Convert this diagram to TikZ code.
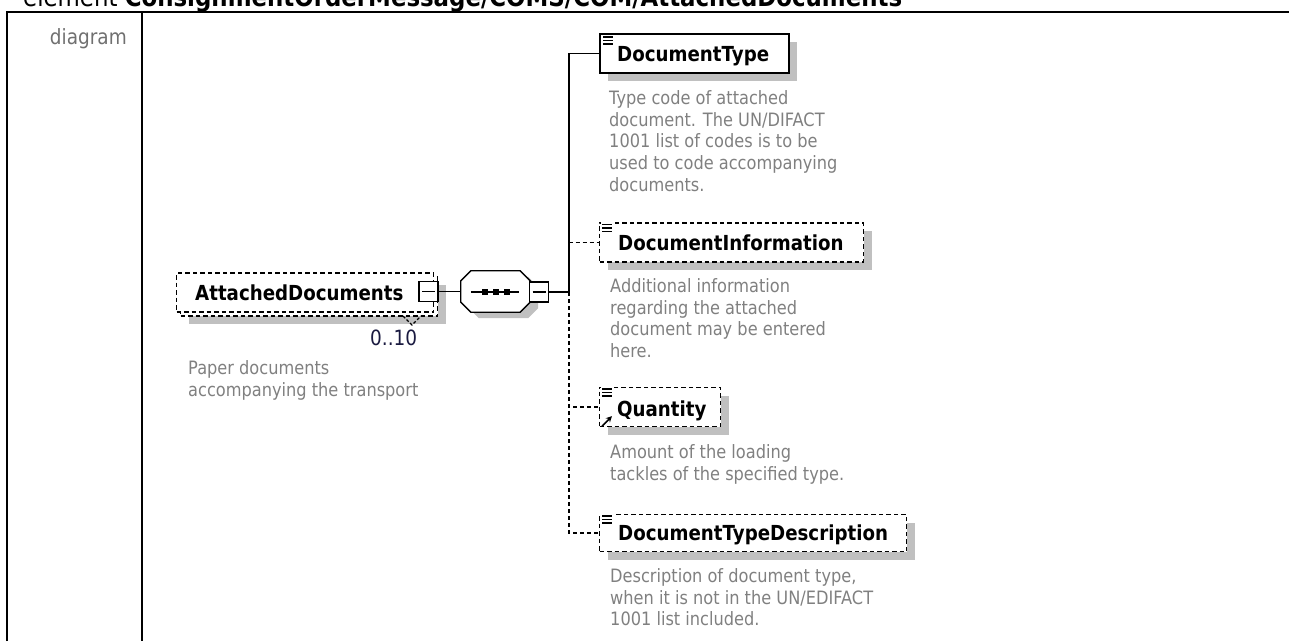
\documentclass[tikz,border=0pt]{standalone}
\usepackage{fontspec}
\setmainfont{DejaVu Sans}[FakeStretch=0.88]
\usetikzlibrary{calc,shadows,arrows.meta}
\definecolor{descgray}{HTML}{808080}
\definecolor{labgray}{HTML}{707070}
\definecolor{shadowgray}{HTML}{C0C0C0}
\definecolor{occ}{HTML}{1A1A40}
\begin{document}
\begin{tikzpicture}[x=1pt,y=-1pt,
  conn/.style={line width=1.3pt},
  dconn/.style={line width=1.3pt, dash pattern=on 4pt off 3pt},
  shad/.style={general shadow={fill=shadowgray, shadow xshift=8pt, shadow yshift=-8pt}},
  shadseq/.style={general shadow={fill=shadowgray, shadow xshift=8pt, shadow yshift=-6pt}},
  optbox/.style={draw, line width=1.3pt, dash pattern=on 4.5pt off 3pt, fill=white, inner sep=0pt, anchor=west, minimum height=39pt},
  reqbox/.style={draw, line width=1.8pt, fill=white, inner sep=0pt, anchor=west, minimum height=39pt},
  heading/.style={font=\fontsize{20.7}{25}\selectfont\bfseries, inner sep=0pt, anchor=base west},
  desc/.style={font=\fontsize{18.4}{21.7}\selectfont, text=descgray, inner sep=0pt, anchor=base west},
  minusbox/.style={draw, line width=1.4pt, fill=white, inner sep=0pt, minimum width=19pt, minimum height=20pt,
    path picture={\draw[line width=1.2pt] ([xshift=3pt]path picture bounding box.west) -- ([xshift=-3pt]path picture bounding box.east);}},
  elemicon/.pic={\fill[white] (-1,-1) rectangle (11,10); \draw[line width=1.3pt] (0,1)--(10,1) (0,4.5)--(10,4.5) (0,8)--(10,8);}
]
\useasboundingbox (0,0) rectangle (1289,641);
\clip (0,0) rectangle (1289,641);

% frame
\node[font=\fontsize{26}{30}\selectfont, inner sep=0pt, anchor=base west] (title) at (23,6) {element \textbf{ConsignmentOrderMessage/COMS/COM/AttachedDocuments}};
\draw[line width=2pt] (7,641) -- (7,12) -- (1289,12);
\draw[line width=2pt] (142,12) -- (142,641);
\node[font=\fontsize{21}{25}\selectfont, text=labgray, inner sep=0pt, anchor=base east] (lab) at (127,44) {diagram};

% AttachedDocuments
\node[optbox, shad, minimum width=257pt] (adback) at (180,296.5) {};
\node[optbox, minimum width=257pt] (ad) at (176,292.5) {};
\node[heading] (adt) at (195,300.5) {AttachedDocuments};
\draw[line width=1.2pt, dash pattern=on 3pt off 2pt] (403,316) -- (412,325) -- (421,316);
\node[minusbox] (adminus) at (428.5,291.5) {};
\node[font=\fontsize{21}{25}\selectfont, text=occ, inner sep=0pt, anchor=base west] (occ) at (370,345.5) {0..10};
\node[desc] (add1) at (188,374.5) {Paper documents};
\node[desc] (add2) at (188,396.5) {accompanying the transport};

% sequence
\node[inner sep=0pt, minimum width=69pt, minimum height=41pt] (seq) at (495.5,291.5) {};
\draw[line width=1.3pt, fill=white, shadseq]
  ($(seq.north west)+(10,0)$) -- ($(seq.north east)+(-10,0)$) -- ($(seq.north east)+(0,10)$)
  -- ($(seq.south east)+(0,-10)$) -- ($(seq.south east)+(-10,0)$) -- ($(seq.south west)+(10,0)$)
  -- ($(seq.south west)+(0,-10)$) -- ($(seq.north west)+(0,10)$) -- cycle;
\draw[line width=1.3pt] ($(seq.west)+(10,0.5)$) -- ($(seq.east)+(-11,0.5)$);
\foreach \dx in {-10.5,0.5,11.5}
  \fill ($(seq.center)+(\dx,0.5)$) +(-2.6,-2.6) rectangle +(2.6,2.6);
\node[minusbox] (seqminus) at (539,292) {};
\coordinate (trunk) at (569,292);

% children
\node[reqbox, shad, minimum width=189pt] (dt) at (599,53.5) {};
\pic at ($(dt.north west)+(4,3)$) {elemicon};
\node[heading] (dtt) at (617,61.5) {DocumentType};
\foreach \t [count=\i] in {Type code of attached, document. The UN/DIFACT, 1001 list of codes is to be, used to code accompanying, documents.}
  \node[desc] (dtd\i) at (609,{104.5+(\i-1)*21.7}) {\t};

\node[optbox, shad, minimum width=264pt] (di) at (599,242.5) {};
\pic at ($(di.north west)+(3,1)$) {elemicon};
\node[heading] (dit) at (618,250.5) {DocumentInformation};
\foreach \t [count=\i] in {Additional information, regarding the attached, document may be entered, here.}
  \node[desc] (did\i) at (610,{292.5+(\i-1)*21.7}) {\t};

\node[optbox, shad, minimum width=121pt] (q) at (599,407) {};
\pic at ($(q.north west)+(3,1)$) {elemicon};
\draw[line width=1.6pt, -{Stealth[length=6pt,width=6pt]}] ($(q.south west)+(3,-1)$) -- ++(10,-10);
\node[heading] (qt) at (617,416) {Quantity};
\foreach \t [count=\i] in {Amount of the loading, tackles of the specified type.}
  \node[desc] (qd\i) at (610,{458.5+(\i-1)*21.7}) {\t};

\node[optbox, shad, minimum width=307pt, minimum height=37pt] (dtdesc) at (599,533) {};
\pic at ($(dtdesc.north west)+(3,1)$) {elemicon};
\node[heading] (dtdesct) at (618,540) {DocumentTypeDescription};
\foreach \t [count=\i] in {{Description of document type,}, when it is not in the UN/EDIFACT, 1001 list included.}
  \node[desc] (dtdescd\i) at (610,{582.5+(\i-1)*21.7}) {\t};

% connectors
\draw[conn] (adminus.east) -- (seq.west);
\draw[conn] (seqminus.east) -- (trunk);
\draw[conn] (trunk) |- (dt.west);
\draw[dconn] (trunk) |- (di.west);
\draw[dconn] (trunk) |- (q.west);
\draw[dconn] (trunk) |- (dtdesc.west);
\end{tikzpicture}
\end{document}
